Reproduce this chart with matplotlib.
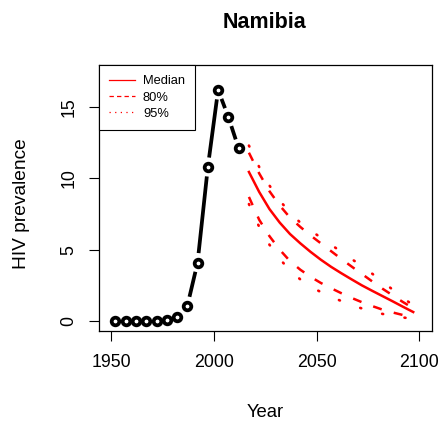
import numpy as np
import matplotlib
matplotlib.use('Agg')
import matplotlib.pyplot as plt
from matplotlib.lines import Line2D

plt.rcParams['font.family'] = ['Liberation Sans', 'DejaVu Sans']

# Data
obs_years = [1952, 1957, 1962, 1967, 1972, 1977, 1982, 1987, 1992, 1997, 2002, 2007, 2012]
obs_prev = [0.0, 0.0, 0.0, 0.0, 0.0, 0.05, 0.26, 1.05, 4.1, 10.8, 16.2, 14.3, 12.1]

proj_years = [2017, 2022, 2027, 2032, 2037, 2042, 2047, 2052, 2057,
              2062, 2067, 2072, 2077, 2082, 2087, 2092, 2097]
median = [10.45, 9.05, 7.85, 6.9, 6.1, 5.45, 4.85, 4.3, 3.8,
          3.35, 2.92, 2.5, 2.12, 1.75, 1.38, 1.0, 0.63]
hi80 = [11.8, 10.35, 9.1, 8.1, 7.25, 6.6, 6.0, 5.45, 4.9,
        4.35, 3.82, 3.3, 2.78, 2.27, 1.8, 1.33, 0.9]
lo80 = [8.7, 7.1, 5.95, 5.0, 4.2, 3.6, 3.1, 2.67, 2.3,
        1.95, 1.62, 1.32, 1.05, 0.8, 0.6, 0.42, 0.25]
hi95 = [12.3, 10.8, 9.5, 8.45, 7.6, 6.9, 6.35, 5.85, 5.35,
        4.85, 4.35, 3.85, 3.32, 2.77, 2.2, 1.63, 1.1]
lo95 = [8.2, 6.6, 5.35, 4.35, 3.55, 2.92, 2.42, 2.03, 1.7,
        1.4, 1.12, 0.88, 0.67, 0.5, 0.36, 0.25, 0.15]

fig = plt.figure(figsize=(4.46, 4.22), dpi=100)
ax = fig.add_axes([99 / 446, 1 - 331 / 422, (431.7 - 99) / 446, (331 - 65) / 422])
ax.set_xlim(1944, 2106)
ax.set_ylim(-0.7, 17.95)

# observed series, drawn like R type="b": segments with gaps around the points
gap = 9.5  # px
pts = ax.transData.transform(np.column_stack([obs_years, obs_prev]))
inv = ax.transData.inverted()
for p0, p1 in zip(pts[:-1], pts[1:]):
    d = p1 - p0
    length = np.hypot(*d)
    if length <= 2 * gap:
        continue
    u = d / length
    seg = inv.transform(np.array([p0 + gap * u, p1 - gap * u]))
    ax.plot(seg[:, 0], seg[:, 1], color='black', lw=2.7, solid_capstyle='butt')
ax.plot(obs_years, obs_prev, linestyle='none', marker='o', ms=5.5, mew=2.7,
        mec='black', mfc='none')

# projections
red = '#ff0000'
ax.plot(proj_years, median, color=red, lw=1.8)
for band in (hi80, lo80):
    ax.plot(proj_years, band, color=red, lw=1.8, dashes=(3.6, 5.0), dash_capstyle='butt')
for band in (hi95, lo95):
    ax.plot(proj_years, band, color=red, lw=1.9, dashes=(0.4, 8.2), dash_capstyle='round')

ax.set_xticks([1950, 2000, 2050, 2100])
ax.set_yticks([0, 5, 10, 15])
ax.tick_params(axis='both', direction='out', length=7.3, width=0.8, labelsize=12.8)
ax.tick_params(axis='x', pad=9.5)
ax.tick_params(axis='y', pad=8.0)
for lab in ax.get_yticklabels():
    lab.set_rotation(90)
    lab.set_verticalalignment('center')
for s in ax.spines.values():
    s.set_linewidth(0.9)

fig.text(265 / 446, 1 - 27.7 / 422, 'Namibia', ha='center', va='baseline',
         fontsize=15.5, fontweight='bold')
fig.text(265 / 446, 1 - 417 / 422, 'Year', ha='center', va='baseline', fontsize=13.3)
fig.text(22 / 446, 1 - 204 / 422, 'HIV prevalence', ha='center', va='center',
         rotation=90, fontsize=13.8)

handles = [
    Line2D([], [], color=red, lw=0.9),
    Line2D([], [], color=red, lw=0.9, dashes=(3.5, 2.5)),
    Line2D([], [], color=red, lw=0.9, dashes=(1, 3.5)),
]
leg = ax.legend(handles, ['Median', '80%', '95%'], loc='upper left', fontsize=9.3,
                borderaxespad=0, fancybox=False, framealpha=1, edgecolor='black',
                handlelength=2.0, handletextpad=0.6, borderpad=0.8, labelspacing=0.33)
leg.get_frame().set_linewidth(0.8)

fig.savefig('out.png', dpi=100)
